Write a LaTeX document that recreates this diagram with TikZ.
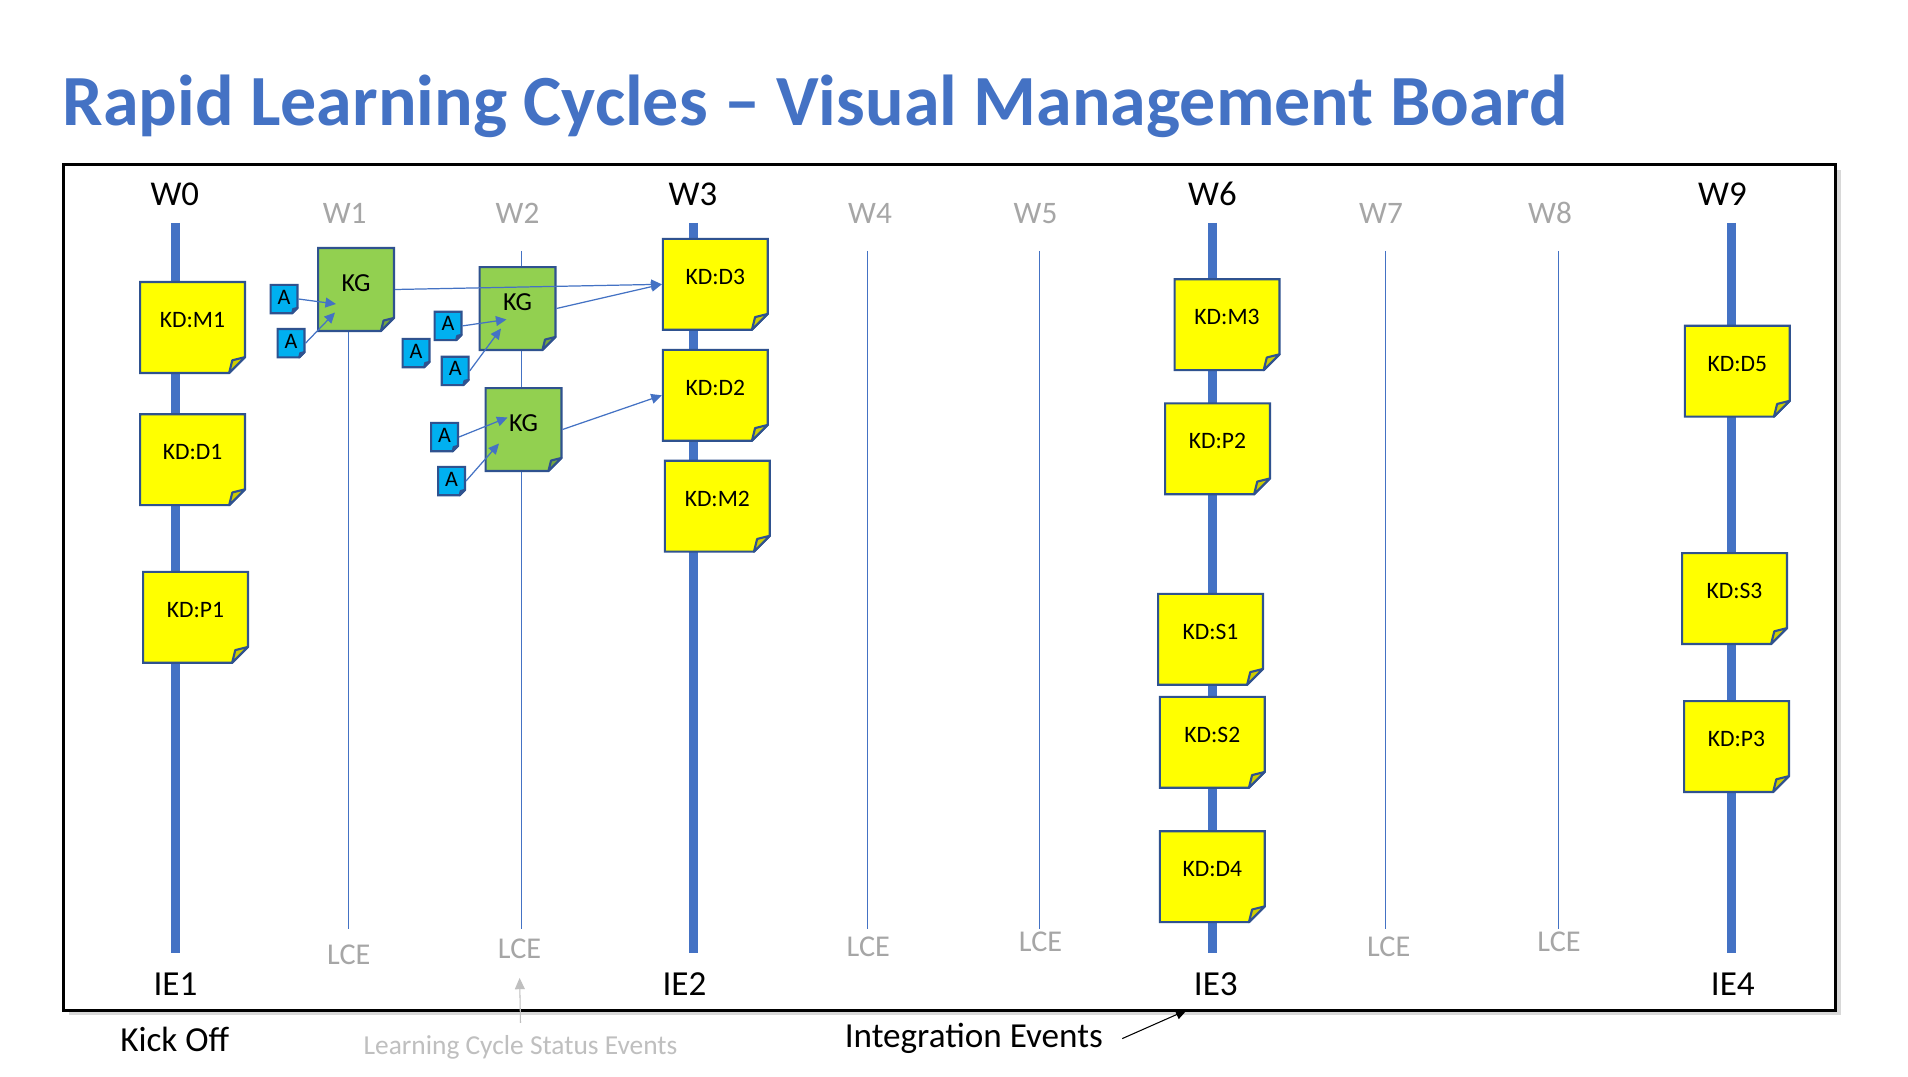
\documentclass[tikz,border=0pt]{standalone}
\usepackage{fontspec}
\setmainfont{Carlito}
\usepackage{tikz}
\usetikzlibrary{calc,arrows.meta,shadows}
\definecolor{boardblue}{RGB}{68,114,196}
\definecolor{noteline}{RGB}{47,82,143}
\definecolor{kdyel}{RGB}{255,255,0}
\definecolor{kdfold}{RGB}{205,205,0}
\definecolor{kggreen}{RGB}{146,208,80}
\definecolor{kgfold}{RGB}{117,166,64}
\definecolor{actcyan}{RGB}{0,176,240}
\definecolor{actfold}{RGB}{0,141,192}
\definecolor{dimgray}{RGB}{166,166,166}
\definecolor{faintgray}{RGB}{191,191,191}
\tikzset{
  folded/.style n args={3}{draw=none,inner sep=0pt,outer sep=0pt,
    path picture={
      \coordinate (fnw) at ([shift={(0.3pt,-0.3pt)}]path picture bounding box.north west);
      \coordinate (fse) at ([shift={(-0.3pt,0.3pt)}]path picture bounding box.south east);
      \filldraw[fill=#1,draw=noteline,line width=0.6pt,line join=miter]
        (fnw) -- (fnw -| fse) -- ([yshift=#3]fse) -- ([xshift=-#3]fse) -- (fnw |- fse) -- cycle;
      \filldraw[fill=#2,draw=noteline,line width=0.6pt,line join=round]
        ([xshift=-#3]fse) -- ([xshift=-0.8*#3,yshift=0.8*#3]fse) -- ([yshift=#3]fse) -- cycle;
    }},
  kd/.style={folded={kdyel}{kdfold}{4.5pt},minimum width=1.07cm,minimum height=0.93cm,
    font=\fontsize{6.7}{8}\selectfont,text height=4.2pt,text depth=4.3pt},
  kg/.style={folded={kggreen}{kgfold}{3.7pt},minimum width=0.78cm,minimum height=0.85cm,
    font=\fontsize{7.4}{9}\selectfont,text height=4.7pt,text depth=3.4pt},
  act/.style={folded={actcyan}{actfold}{1.5pt},minimum width=0.29cm,minimum height=0.305cm,
    font=\fontsize{6.3}{8}\selectfont,text height=4pt,text depth=1.1pt},
  spine/.style={line width=2.55pt,boardblue},
  cyc/.style={line width=0.4pt,boardblue},
  flow/.style={-{Triangle[length=3pt,width=2.8pt]},line width=0.35pt,boardblue},
  wk/.style={font=\fontsize{9.9}{12}\selectfont,inner sep=0pt,anchor=base},
  wkdim/.style={font=\fontsize{8.9}{11}\selectfont,text=dimgray,inner sep=0pt,anchor=base},
  ie/.style={font=\fontsize{10}{12}\selectfont,inner sep=0pt,anchor=base},
  lce/.style={font=\fontsize{8.6}{10}\selectfont,text=dimgray,anchor=base},
  anno/.style={font=\fontsize{10}{12}\selectfont,anchor=base},
  annoarrow/.style={-{Triangle[length=3.2pt,width=2.8pt]},line width=0.3pt},
}
\begin{document}
\begin{tikzpicture}[x=1cm,y=-1cm]
  \useasboundingbox[fill=white] (0,0) rectangle (19.08,10.77);
  \node[anchor=base west,inner sep=0pt,text=boardblue,font=\fontsize{20.5}{25}\selectfont\bfseries]
    (title) at (0.62,1.26) {Rapid Learning Cycles -- Visual Management Board};
  \node[draw=black,line width=0.85pt,fill=white,outer sep=0pt,minimum width=17.72cm,minimum height=8.455cm,
    drop shadow={shadow xshift=1.5pt,shadow yshift=-1.5pt,opacity=0.3}] (board) at (9.495,5.8725) {};
  % integration event spines and learning cycle lines
  \foreach \x in {1.755,6.935,12.125,17.317} \draw[spine] (\x,2.23) -- (\x,9.53);
  \foreach \x in {3.483,5.215,8.673,10.393,13.853,15.583} \draw[cyc] (\x,2.51) -- (\x,9.29);
  % week labels
  \foreach \x/\w in {1.748/W0,6.93/W3,12.125/W6,17.225/W9} \node[wk] (lbl\w) at (\x,2.057) {\w};
  \foreach \x/\w in {3.447/W1,5.175/W2,8.70/W4,10.355/W5,13.81/W7,15.50/W8}
    \node[wkdim] (lbl\w) at (\x,2.24) {\w};
  \foreach \x/\t in {1.755/IE1,6.845/IE2,12.158/IE3,17.328/IE4} \node[ie] (\t) at (\x,9.95) {\t};
  \foreach \x/\y/\n in {3.488/9.64/1,5.195/9.583/2,8.683/9.56/4,10.405/9.51/5,13.887/9.56/7,15.59/9.51/8}
    \node[lce] (lce\n) at (\x,\y) {LCE};
  % key decisions
  \node[kd] (m1) at (1.925,3.275) {KD:M1};
  \node[kd] (d1) at (1.925,4.597) {KD:D1};
  \node[kd] (p1) at (1.955,6.173) {KD:P1};
  \node[kd] (d3) at (7.153,2.843) {KD:D3};
  \node[kd] (d2) at (7.153,3.953) {KD:D2};
  \node[kd] (m2) at (7.173,5.062) {KD:M2};
  \node[kd] (m3) at (12.27,3.247) {KD:M3};
  \node[kd] (p2) at (12.175,4.488) {KD:P2};
  \node[kd] (s1) at (12.105,6.393) {KD:S1};
  \node[kd] (s2) at (12.123,7.423) {KD:S2};
  \node[kd] (d4) at (12.123,8.767) {KD:D4};
  \node[kd] (d5) at (17.373,3.712) {KD:D5};
  \node[kd] (s3) at (17.345,5.985) {KD:S3};
  \node[kd] (p3) at (17.365,7.465) {KD:P3};
  % knowledge gaps and activities
  \node[kg] (kg1) at (3.56,2.895) {KG};
  \node[kg] (kg2) at (5.175,3.085) {KG};
  \node[kg] (kg3) at (5.235,4.295) {KG};
  \node[act] (a1) at (2.84,2.99) {A};
  \node[act] (a2) at (2.91,3.432) {A};
  \node[act] (a3) at (4.48,3.259) {A};
  \node[act] (a4) at (4.16,3.53) {A};
  \node[act] (a5) at (4.552,3.709) {A};
  \node[act] (a6) at (4.445,4.37) {A};
  \node[act] (a7) at (4.515,4.81) {A};
  \draw[flow] (a1.east) -- ($(kg1.center)+(-0.20,0.145)$);
  \draw[flow] (a2.east) -- ($(kg1.center)+(-0.21,0.23)$);
  \draw[flow] (a3.east) -- ($(kg2.center)+(-0.11,0.11)$);
  \draw[flow] (a5.east) -- ($(kg2.center)+(-0.165,0.2)$);
  \draw[flow] (a6.east) -- ($(kg3.center)+(-0.16,-0.12)$);
  \draw[flow] (a7.east) -- ($(kg3.center)+(-0.245,0.14)$);
  \draw[flow] (kg1.east) -- (d3.west);
  \draw[flow] (kg2.east) -- (d3.west);
  \draw[flow] (kg3.east) -- (d2.west);
  % captions below the board
  \node[anno] (kick) at (1.747,10.517) {Kick Off};
  \node[anno] (intev) at (9.738,10.477) {Integration Events};
  \node[font=\fontsize{7.8}{9}\selectfont,text=faintgray,anchor=base] (lcse) at (5.205,10.543) {Learning Cycle Status Events};
  \draw[annoarrow] ([xshift=2pt]intev.east) -- ($(board.south west)!0.634!(board.south east)$);
  \draw[annoarrow,faintgray,shorten >=2pt] (lcse.north) -- (lce2.south);
\end{tikzpicture}
\end{document}
